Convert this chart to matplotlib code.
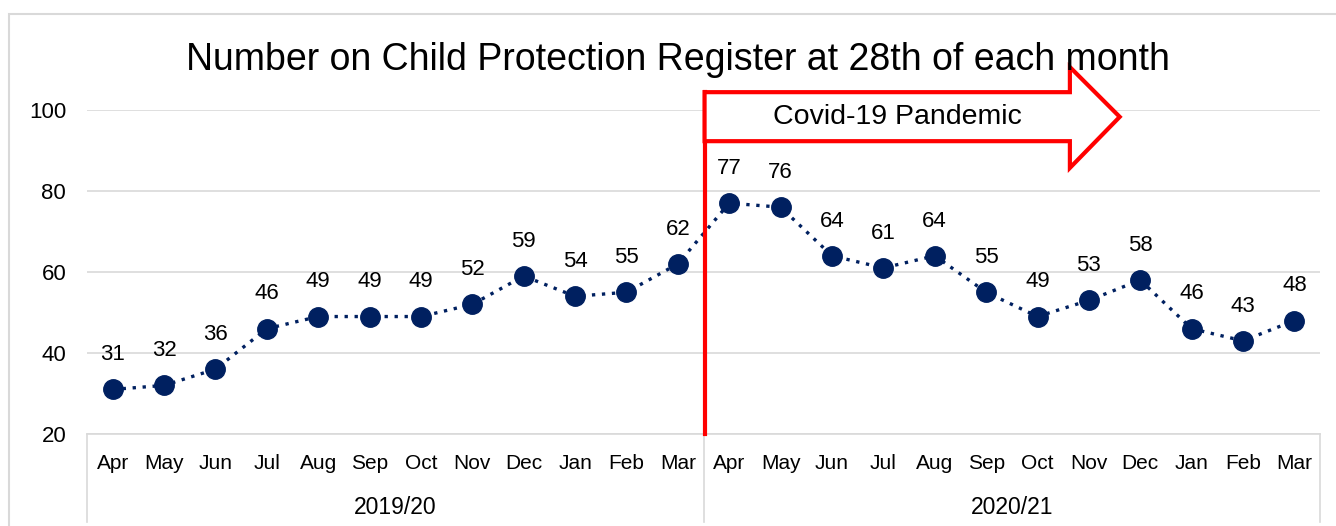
import numpy as np
import matplotlib
matplotlib.use("Agg")
import matplotlib.pyplot as plt
import matplotlib.transforms as mtransforms
from matplotlib.patches import Polygon, Rectangle

plt.rcParams['font.family'] = ['Liberation Sans', 'DejaVu Sans']

months = ["Apr", "May", "Jun", "Jul", "Aug", "Sep", "Oct", "Nov", "Dec", "Jan", "Feb", "Mar"]
years = ["2019/20", "2020/21"]
values_2019 = [31, 32, 36, 46, 49, 49, 49, 52, 59, 54, 55, 62]
values_2020 = [77, 76, 64, 61, 64, 55, 49, 53, 58, 46, 43, 48]

values = values_2019 + values_2020
labels = months + months
x = np.arange(len(values))

navy = "#002060"
grid_col = "#d9d9d9"

fig = plt.figure(figsize=(13.36, 5.26), dpi=100)
ax = fig.add_axes([0.0651, 0.1749, 0.923, 0.616])

# outer chart border
fig.patches.append(Rectangle((0.0067, -0.1), 1.1, 1.0734, transform=fig.transFigure,
                             fill=False, edgecolor=grid_col, linewidth=1.5))

ax.plot(x, values, linestyle=(0, (1, 2)), color=navy, linewidth=2.4,
        marker="o", markersize=14, markerfacecolor=navy, markeredgecolor=navy, zorder=3)

for xi, v in zip(x, values):
    ax.annotate(str(v), (xi, v), xytext=(0, 25), textcoords="offset points",
                ha="center", va="center", fontsize=16)

ax.set_xlim(-0.5, len(values) - 0.5)
ax.set_ylim(20, 100)
ax.set_yticks([20, 40, 60, 80, 100])
ax.yaxis.grid(True, color=grid_col, linewidth=1.2)
ax.set_axisbelow(True)
for s in ["top", "right", "left"]:
    ax.spines[s].set_visible(False)
ax.spines["bottom"].set_color(grid_col)
ax.spines["bottom"].set_linewidth(1.2)
ax.tick_params(axis="y", length=0, labelsize=16, pad=15)
ax.set_xticks([])

# two-level category axis
trans = mtransforms.blended_transform_factory(ax.transData, ax.transAxes)
for xi, lab in zip(x, labels):
    ax.text(xi, -0.0895, lab, transform=trans, ha="center", va="center", fontsize=15)
n = len(months)
for i, yr in enumerate(years):
    ax.text(i * n + (n - 1) / 2, -0.2253, yr, transform=trans, ha="center", va="center", fontsize=16.5)
for b in [-0.5, n - 0.5, 2 * n - 0.5]:
    ax.plot([b, b], [0, -0.272], transform=trans, color=grid_col, linewidth=1.2, clip_on=False)

# Covid-19 arrow
ax.plot([11.52, 11.52], [20, 104.4], color="red", linewidth=3, clip_on=False, zorder=4)
arrow = Polygon([(11.52, 104.4), (18.63, 104.4), (18.63, 110.6), (19.6, 98.3),
                 (18.63, 85.7), (18.63, 92.3), (11.52, 92.3)], closed=True,
                facecolor="white", edgecolor="red", linewidth=3, clip_on=False, zorder=4)
ax.add_patch(arrow)
ax.text(15.27, 98.3, "Covid-19 Pandemic", ha="center", va="center", fontsize=20.5, zorder=5)

fig.text(0.5075, 0.886, "Number on Child Protection Register at 28th of each month",
         ha="center", va="center", fontsize=27)

fig.savefig("out.png", dpi=100)
